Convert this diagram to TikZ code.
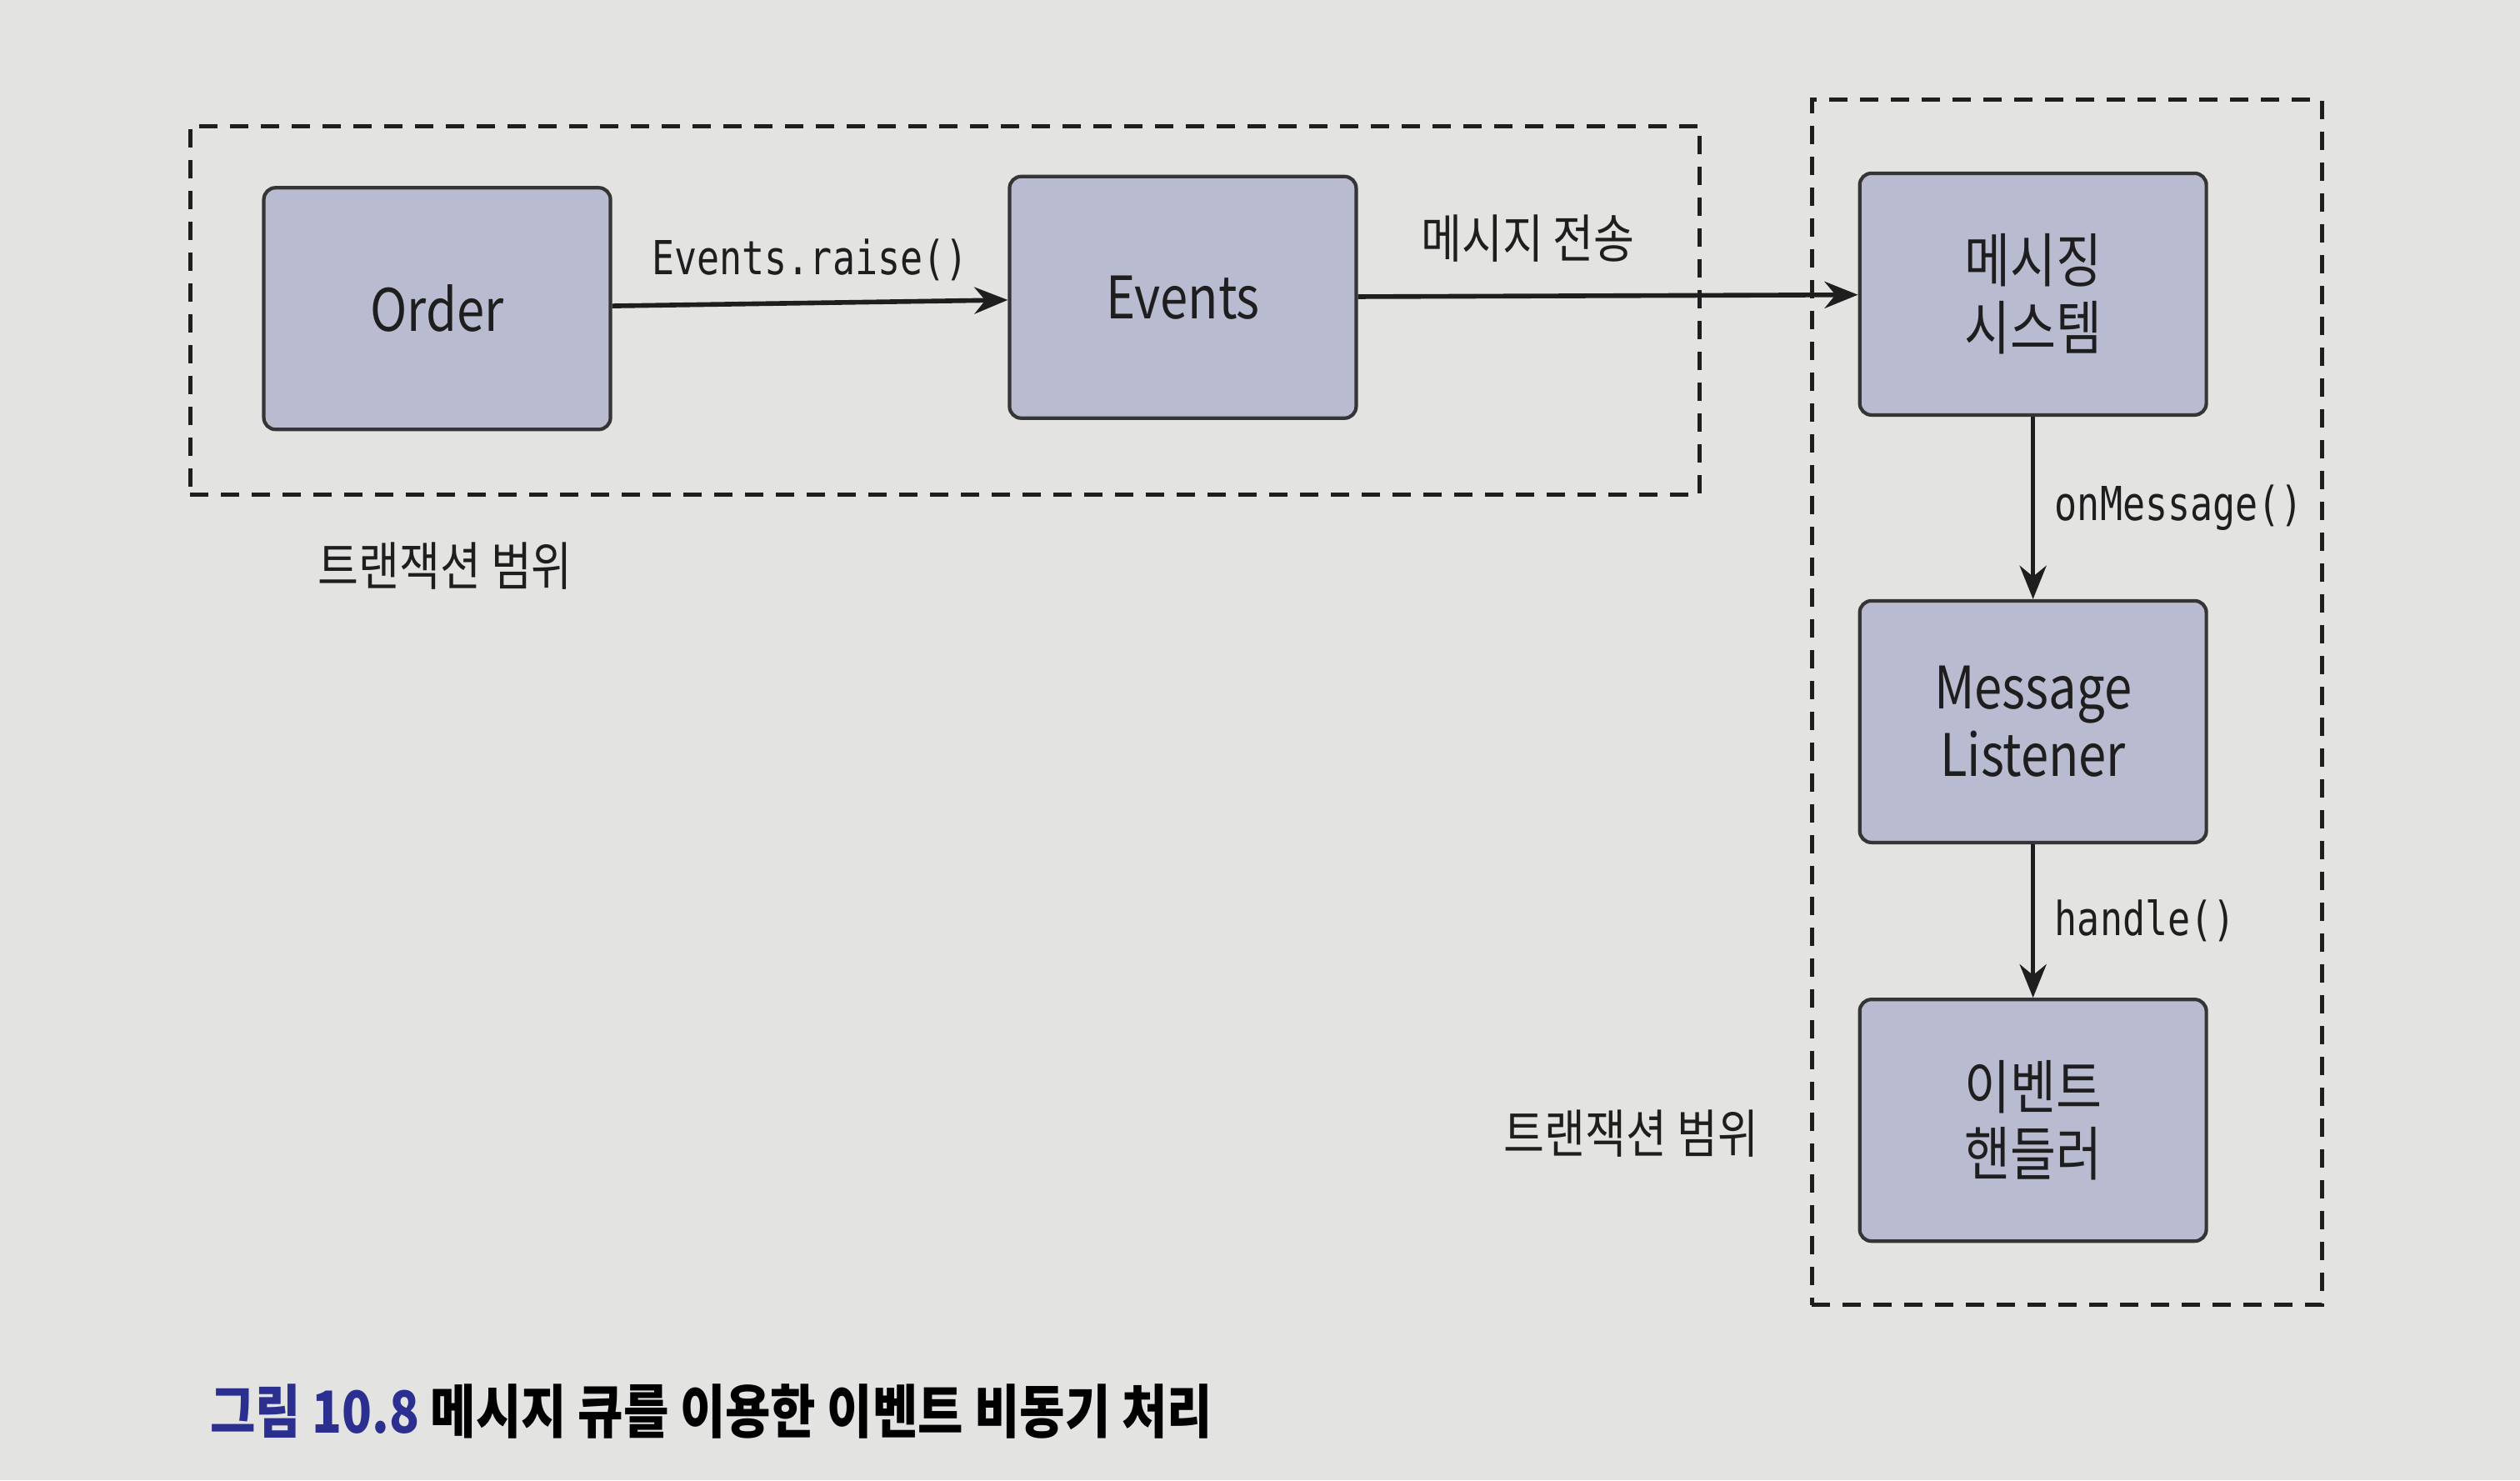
\documentclass[tikz,border=0pt]{standalone}
\usepackage{fontspec}
\newfontfamily\krfont[FakeStretch=0.85]{Noto Sans CJK KR}
\newfontfamily\codefont[FakeStretch=0.8]{DejaVu Sans Mono}
\usetikzlibrary{arrows.meta}

\definecolor{boxfill}{HTML}{B9BBD0}
\definecolor{pagebg}{HTML}{E3E3E1}
\definecolor{figblue}{HTML}{2B2F8F}
\definecolor{inkgray}{HTML}{1E1E1E}

\tikzset{
	comp/.style={shape=rectangle, rounded corners=2pt, minimum width=2.08cm, minimum height=1.45cm,%
		draw=inkgray!90, line width=0.6pt, fill=boxfill, align=center, text=inkgray,%
		font=\krfont\fontsize{10}{11.5}\selectfont},
	txbox/.style={shape=rectangle, draw=inkgray, line width=0.7pt, dash pattern=on 1.1mm off 0.75mm},
	call/.style={draw=inkgray, line width=0.8pt, -{Stealth[length=2mm, width=1.6mm]}},
	code/.style={font=\codefont\fontsize{8}{9}\selectfont, text=inkgray},
	scope label/.style={font=\krfont\fontsize{8.9}{10}\selectfont, text=inkgray}
}

\begin{document}
\begin{tikzpicture}[x=0.009643cm, y=-0.009643cm]
	\fill [pagebg] (0,0) rectangle (1568,921);
	\useasboundingbox (0,0) rectangle (1568,921);
	% transaction scopes
	\node [txbox, minimum width=9.06cm, minimum height=2.21cm] (txa) at (588,193) {};
	\node [txbox, minimum width=3.06cm, minimum height=7.23cm] (txb) at (1286,437) {};
	\node [scope label] (sla) at (277,352) {트랜잭션 범위};
	\node [scope label] (slb) at (1015,705) {트랜잭션 범위};
	% components
	\node [comp] (od) at (272,192) {Order};
	\node [comp] (ev) at (736,185) {Events};
	\node [comp] (ms) at (1265,183) {메시징\\시스템};
	\node [comp] (ml) at (1265,449) {Message\\Listener};
	\node [comp] (eh) at (1265,697) {이벤트\\핸들러};
	% calls
	\draw [call] (od) -- node [code, above] {Events.raise()} (ev);
	\draw [call] (ev) -- node [scope label, above, pos=0.34, yshift=2pt] {메시지 전송} (ms);
	\draw [call] (ms) -- node [code, right] {onMessage()} (ml);
	\draw [call] (ml) -- node [code, right] {handle()} (eh);
	% caption
	\node [anchor=west, inner sep=0pt, font=\krfont\bfseries\fontsize{9.9}{11}\selectfont, text=black]%
		(cap) at (130,878) {\textcolor{figblue}{그림 10.8} 메시지 큐를 이용한 이벤트 비동기 처리};
\end{tikzpicture}
\end{document}
